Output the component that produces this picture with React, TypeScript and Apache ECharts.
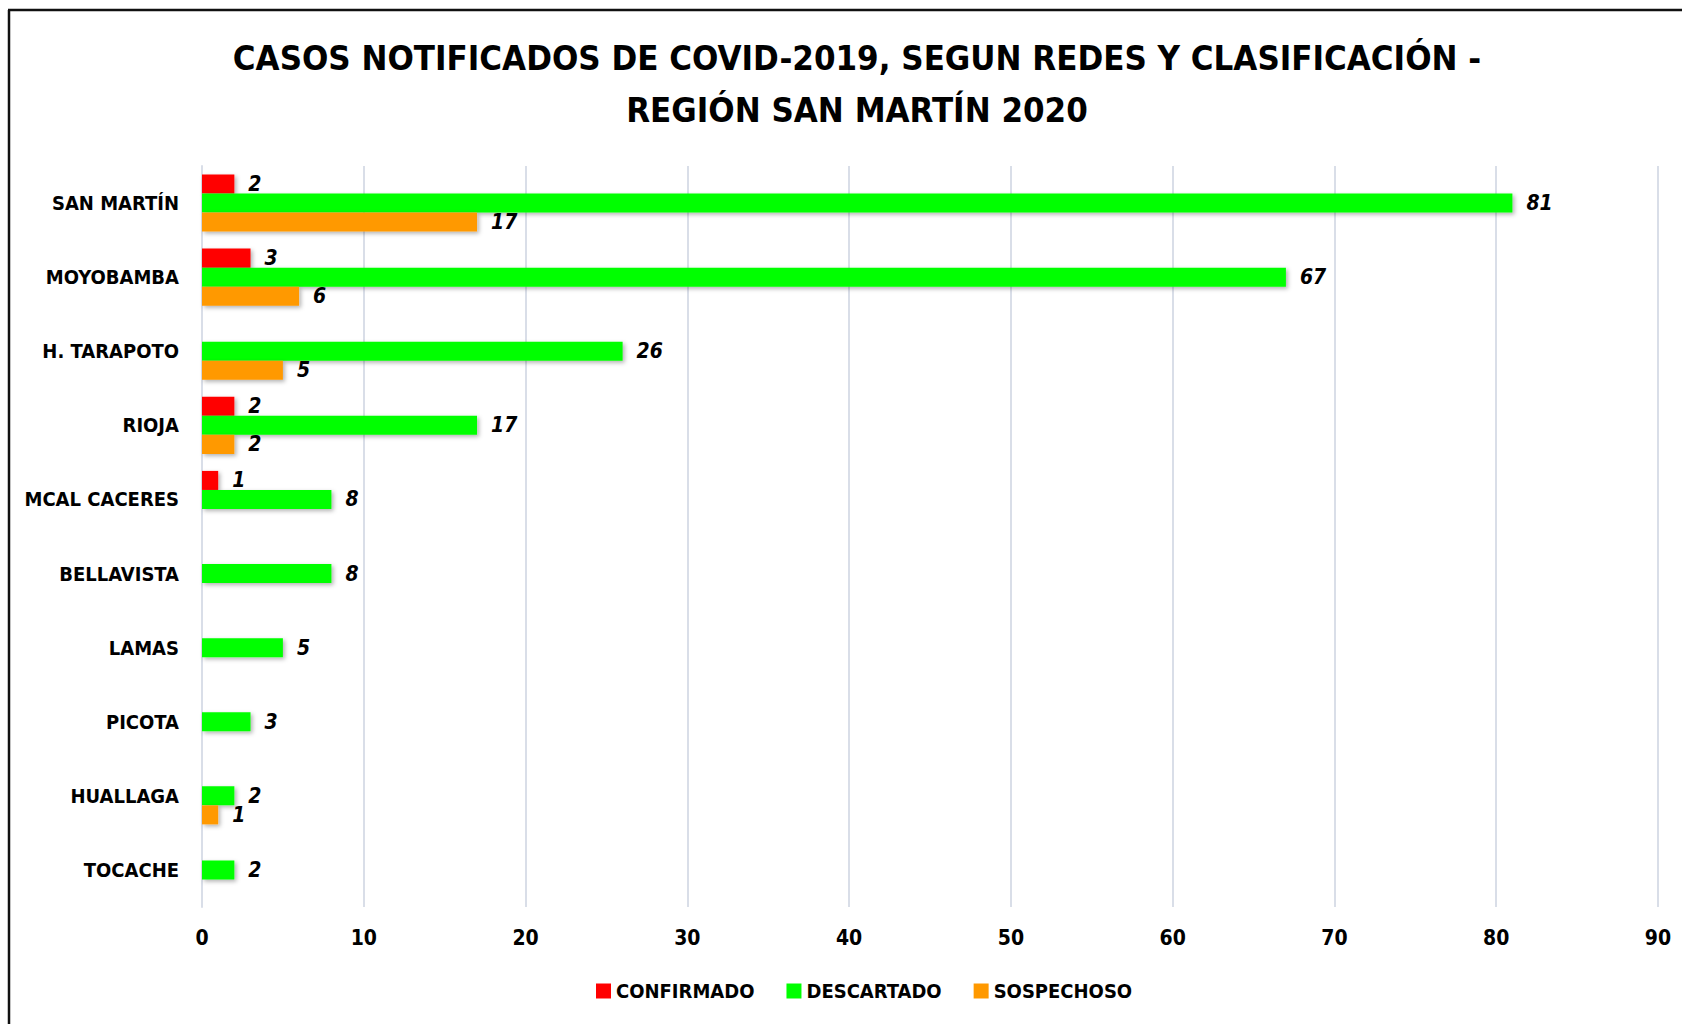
import React, { useEffect, useRef } from "react";
import * as echarts from "echarts";

const categories = [
  "SAN MARTÍN",
  "MOYOBAMBA",
  "H. TARAPOTO",
  "RIOJA",
  "MCAL CACERES",
  "BELLAVISTA",
  "LAMAS",
  "PICOTA",
  "HUALLAGA",
  "TOCACHE",
];
const confirmado = [2, 3, null, 2, 1, null, null, null, null, null];
const descartado = [81, 67, 26, 17, 8, 8, 5, 3, 2, 2];
const sospechoso = [17, 6, 5, 2, null, null, null, null, 1, null];
const seriesNames = ["CONFIRMADO", "DESCARTADO", "SOSPECHOSO"];
const xTicks = { min: 0, max: 90, interval: 10 };
const titleText = "CASOS NOTIFICADOS DE COVID-2019, SEGUN REDES Y CLASIFICACIÓN -\nREGIÓN SAN MARTÍN 2020";

const FONT = "'Liberation Sans Narrow', 'DejaVu Sans Condensed', 'Open Sans', sans-serif";
const colors = ["#FF0000", "#00FF00", "#FF9900"];

export default function App() {
  const ref = useRef<HTMLDivElement>(null);
  useEffect(() => {
    if (!ref.current) return;
    const chart = echarts.init(ref.current, null, { renderer: "svg" });
    const values = [confirmado, descartado, sospechoso];
    chart.setOption({
      animation: false,
      backgroundColor: "#ffffff",
      title: {
        text: titleText,
        left: 852,
        top: 27,
        textAlign: "center",
        textStyle: {
          fontFamily: FONT,
          fontWeight: "bold",
          fontSize: 34.5,
          lineHeight: 52,
          color: "#000",
        },
      },
      legend: {
        data: seriesNames,
        left: 591,
        top: 976,
        icon: "rect",
        itemWidth: 15,
        itemHeight: 15,
        itemGap: 32,
        textStyle: {
          fontFamily: FONT,
          fontWeight: "bold",
          fontSize: 20,
          color: "#000",
        },
      },
      grid: {
        left: 202,
        right: 24,
        top: 166,
        bottom: 1024 - 907,
        containLabel: false,
      },
      xAxis: {
        type: "value",
        min: xTicks.min,
        max: xTicks.max,
        interval: xTicks.interval,
        axisLine: { show: false },
        axisTick: { show: false },
        splitLine: { show: true, lineStyle: { color: "#D9DEE8", width: 2 } },
        axisLabel: {
          margin: 20,
          fontFamily: FONT,
          fontWeight: "bold",
          fontSize: 21,
          color: "#000",
        },
      },
      yAxis: {
        type: "category",
        data: categories,
        inverse: true,
        axisLine: { show: true, lineStyle: { color: "#D9DEE8", width: 2 } },
        axisTick: { show: false },
        axisLabel: {
          margin: 23,
          fontFamily: FONT,
          fontWeight: "bold",
          fontSize: 20,
          color: "#000",
        },
      },
      graphic: [
        {
          type: "line",
          shape: { x1: 9, y1: 10, x2: 9, y2: 1024 },
          style: { stroke: "#111", lineWidth: 2.5 },
          z: 100,
        },
        {
          type: "line",
          shape: { x1: 8, y1: 10, x2: 1682, y2: 10 },
          style: { stroke: "#111", lineWidth: 2.5 },
          z: 100,
        },
      ],
      series: seriesNames.map((name, i) => ({
        name,
        type: "bar",
        data: values[i],
        barGap: "0%",
        barCategoryGap: "23%",
        itemStyle: {
          color: colors[i],
          shadowBlur: 4,
          shadowOffsetX: 2,
          shadowOffsetY: 2,
          shadowColor: "rgba(0,0,0,0.3)",
        },
        label: {
          show: true,
          position: "right",
          distance: 14,
          fontFamily: FONT,
          fontWeight: "bold",
          fontStyle: "italic",
          fontSize: 21,
          color: "#000",
        },
      })),
    });
    return () => chart.dispose();
  }, []);
  return (
    <div
      ref={ref}
      style={{ position: "absolute", left: 0, top: 0, width: 1682, height: 1024 }}
    />
  );
}
